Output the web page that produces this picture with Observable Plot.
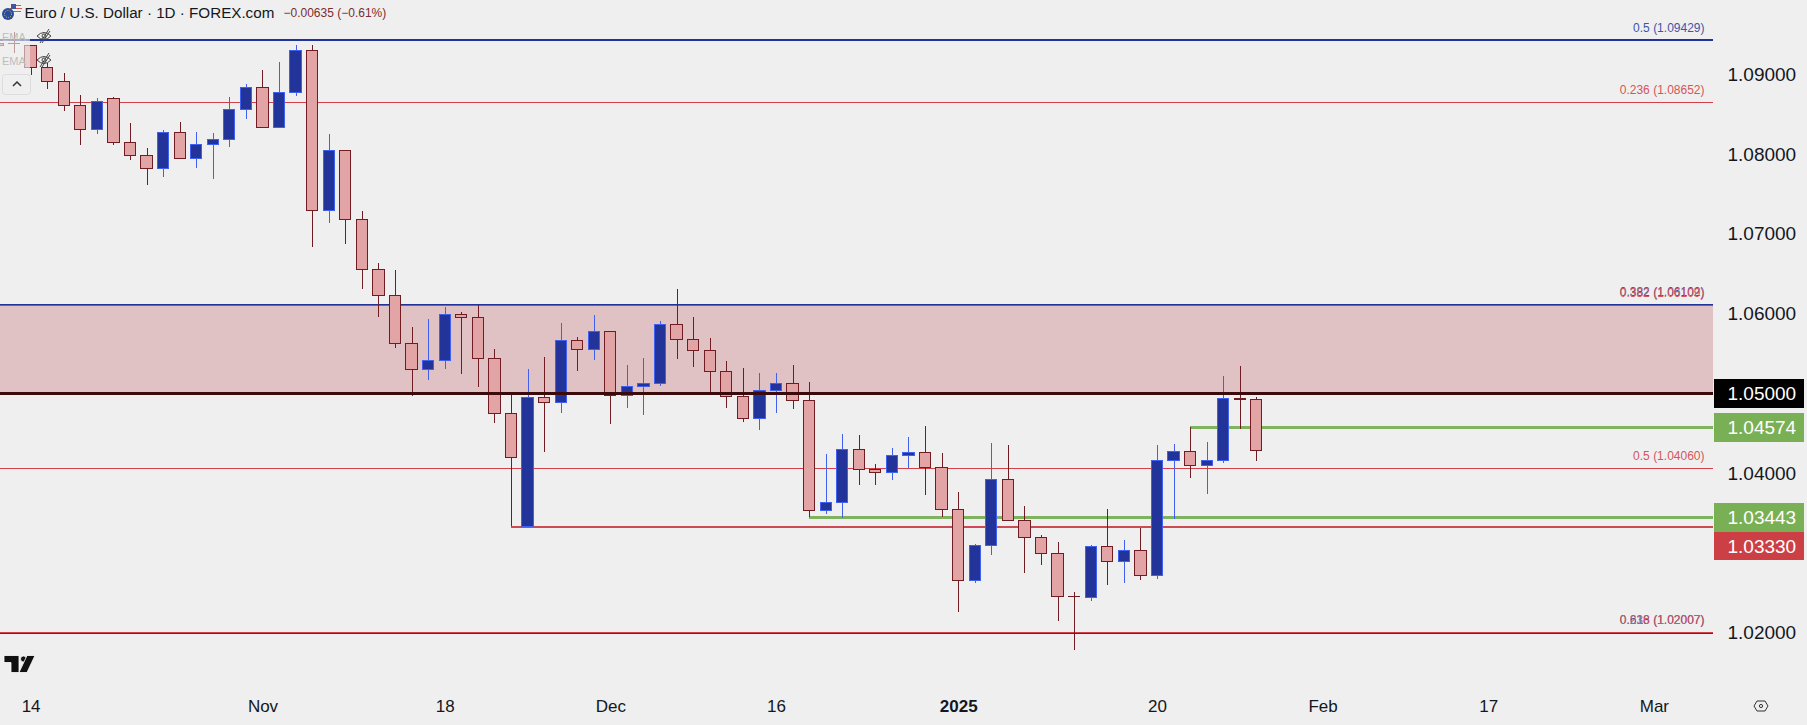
<!DOCTYPE html>
<html><head><meta charset="utf-8">
<script src="https://cdn.jsdelivr.net/npm/d3@7"></script>
<script src="https://cdn.jsdelivr.net/npm/@observablehq/plot@0.6"></script>
<style>
html,body{margin:0;padding:0;background:#efefef;overflow:hidden}
#wrap{position:relative;width:1807px;height:725px}
#wrap>svg.icon{position:absolute;overflow:visible}
</style></head><body><div id="wrap"><div id="chart"></div></div>
<script>
const opens=[1.09363,1.09083,1.08911,1.08610,1.08310,1.08698,1.08147,1.07984,1.07821,1.08272,1.07946,1.08121,1.08184,1.08560,1.08836,1.08335,1.08773,1.09300,1.07294,1.08046,
1.07181,1.06554,1.06228,1.05626,1.05300,1.05413,1.05990,1.05952,1.05438,1.04748,1.03332,1.04949,1.04886,1.05664,1.05551,1.05776,1.04974,1.05087,1.05125,1.05864,
1.05676,1.05538,1.05275,1.04962,1.04686,1.05037,1.05125,1.04911,1.03532,1.03633,1.04297,1.04046,1.04009,1.04221,1.04259,1.04071,1.03544,1.02654,1.03093,1.03921,
1.03407,1.03193,1.02993,1.02454,1.02441,1.03081,1.02893,1.03030,1.02717,1.04159,1.04272,1.04096,1.04159,1.04932,1.04924];
const highs=[1.09363,1.09137,1.09012,1.08736,1.08698,1.08711,1.08385,1.08071,1.08297,1.08401,1.08276,1.08259,1.08711,1.08878,1.09053,1.09154,1.09367,1.09367,1.08251,1.08046,
1.07282,1.06630,1.06542,1.05831,1.05931,1.06077,1.06015,1.06107,1.05551,1.04978,1.05304,1.05450,1.05877,1.05701,1.05977,1.05776,1.05354,1.05438,1.05902,1.06307,
1.05952,1.05689,1.05400,1.05313,1.05250,1.05250,1.05350,1.05137,1.04234,1.04485,1.04473,1.04109,1.04310,1.04447,1.04589,1.04247,1.03758,1.03106,1.04372,1.04347,
1.03582,1.03218,1.03131,1.02504,1.03093,1.03544,1.03156,1.03306,1.04347,1.04359,1.04572,1.04384,1.05212,1.05337,1.04949];
const lows=[1.08991,1.08819,1.08544,1.08117,1.08255,1.08117,1.07929,1.07616,1.07716,1.07946,1.07829,1.07691,1.08092,1.08443,1.08335,1.08335,1.08727,1.06839,1.07139,1.06876,
1.06304,1.05961,1.05572,1.04970,1.05170,1.05308,1.05246,1.05083,1.04631,1.03336,1.03332,1.04268,1.04757,1.05283,1.05421,1.04619,1.04819,1.04732,1.05095,1.05434,
1.05333,1.04991,1.04819,1.04644,1.04544,1.04757,1.04807,1.03445,1.03491,1.03440,1.03854,1.03854,1.03917,1.04063,1.03728,1.03453,1.02262,1.02625,1.02976,1.03407,
1.02750,1.02851,1.02149,1.01785,1.02399,1.02600,1.02625,1.02663,1.02675,1.03427,1.03941,1.03741,1.04130,1.04556,1.04155];
const closes=[1.09083,1.08911,1.08610,1.08310,1.08661,1.08147,1.07984,1.07821,1.08272,1.07946,1.08121,1.08184,1.08560,1.08836,1.08335,1.08773,1.09300,1.07294,1.08046,1.07181,
1.06554,1.06228,1.05626,1.05300,1.05413,1.05990,1.05952,1.05438,1.04748,1.04197,1.04949,1.04886,1.05664,1.05551,1.05776,1.04974,1.05087,1.05125,1.05864,1.05676,
1.05538,1.05275,1.04962,1.04686,1.05037,1.05125,1.04911,1.03532,1.03633,1.04297,1.04046,1.04009,1.04221,1.04259,1.04071,1.03544,1.02654,1.03093,1.03921,1.03407,
1.03193,1.02993,1.02454,1.02450,1.03081,1.02893,1.03030,1.02717,1.04159,1.04272,1.04096,1.04159,1.04936,1.04924,1.04284];
// two earlier sessions that sit under the faded legend at the left edge
const earlyBars=[{i:-2,o:1.09385,h:1.09420,l:1.09340,c:1.09363},{i:-1,o:1.09385,h:1.09529,l:1.09266,c:1.09380}];

const tickBars=[0,14,25,35,45,68,78,88,98];
const tickLabels=["14","Nov","18","Dec","16","20","Feb","17","Mar"];
const yearBar=56, yearLabel="2025";
const yTicks=[1.02,1.04,1.06,1.07,1.08,1.09];

const fibBlue=[{p:1.09429,t:"0.5 (1.09429)",w:2},{p:1.06122,t:"0.382 (1.06102)",w:1},{p:1.02000,t:"0.618 (1.02007)",w:1}];
const fibRed=[{p:1.08652,t:"0.236 (1.08652)"},{p:1.06110,t:"0.382 (1.06109)"},{p:1.04060,t:"0.5 (1.04060)"},{p:1.02010,t:"0.236 (1.02007)"}];
const zoneTop=1.06110, zoneBottom=1.05;
const level500=1.05;
const greenLevels=[{p:1.04574,from:70},{p:1.03443,from:47}];
const redLevels=[{p:1.03330,from:29}];

const bars=[...earlyBars,...opens.map((o,i)=>({i,o,h:highs[i],l:lows[i],c:closes[i]}))].map(d=>({...d,up:d.c>d.o}));
const cUpFill="#223399",cUpLine="#4060f0",cDnFill="#e3a4a5",cDnLine="#701c22";
const cBlue="#20339a",cRed="#d4404a",cGreen="#7fb35f",cRedLvl="#cc4a52";
const F="'Liberation Sans',sans-serif";
const xMin=-1.847,xMax=101.57,xEnd=107.07;
const crisp={shapeRendering:"crispEdges"};

const tag=(p,txt,bg,dy=0)=>[
 Plot.rect([p],{x1:xMax+0.06,x2:xEnd,y1:d=>d-0.00180,y2:d=>d+0.00180,fill:bg,dy,...crisp}),
 Plot.text([p],{x:xMax,y:d=>d,text:()=>txt,fill:"#fff",textAnchor:"start",dx:14,dy,fontSize:19,fontFamily:F})
];
const plot=Plot.plot({
 width:1807,height:725,marginLeft:0,marginRight:94,marginTop:0,marginBottom:40,
 style:{background:"#efefef",fontFamily:F,overflow:"visible"},
 x:{type:"linear",domain:[xMin,xMax],axis:null},
 y:{type:"linear",domain:[1.01342,1.09930],axis:null},
 marks:[
  Plot.rect([0],{x1:xMin,x2:xMax,y1:zoneBottom,y2:zoneTop,fill:"#e1c2c4",...crisp}),
  Plot.ruleY(fibBlue,{y:"p",x1:xMin,x2:xMax,stroke:cBlue,strokeWidth:"w",...crisp}),
  Plot.ruleY(fibRed,{y:"p",x1:xMin,x2:xMax,stroke:cRed,strokeWidth:1,...crisp}),
  Plot.ruleY(greenLevels,{y:"p",x1:"from",x2:()=>xMax,stroke:cGreen,strokeWidth:3,...crisp}),
  Plot.ruleY(redLevels,{y:"p",x1:"from",x2:()=>xMax,stroke:cRedLvl,strokeWidth:2,...crisp}),
  Plot.ruleX(bars,{x:"i",y1:"l",y2:"h",stroke:d=>d.up?cUpLine:cDnLine,strokeWidth:1,...crisp}),
  Plot.rect(bars,{x1:d=>d.i-0.34,x2:d=>d.i+0.34,y1:d=>Math.min(d.o,d.c),y2:d=>Math.max(d.o,d.c),fill:d=>d.up?cUpFill:cDnFill,stroke:d=>d.up?cUpLine:cDnLine,strokeWidth:1,...crisp}),
  Plot.ruleY([level500],{x1:xMin,x2:xMax,stroke:"#3a0a0c",strokeWidth:3,...crisp}),
  Plot.text(fibBlue,{x:()=>xMax,y:"p",text:"t",fill:"#3d55a8",textAnchor:"end",dx:-9,dy:-12.5,fontSize:12,fontFamily:F}),
  Plot.text(fibRed,{x:()=>xMax,y:"p",text:"t",fill:"#d4555c",textAnchor:"end",dx:-9,dy:-12.5,fontSize:12,fontFamily:F}),
  Plot.axisY(yTicks,{anchor:"right",tickSize:0,tickPadding:14,textAnchor:"start",tickFormat:d3.format(".5f"),fill:"#131722",fontSize:19,fontFamily:F,label:null}),
  ...tag(level500,"1.05000","#000"),
  ...tag(1.04574,"1.04574","#7ab055"),
  ...tag(1.03443,"1.03443","#7ab055"),
  ...tag(1.03330,"1.03330","#cc3f45",19.6),
  Plot.axisX(tickBars,{tickSize:0,tickPadding:14,tickFormat:d=>tickLabels[tickBars.indexOf(d)],fill:"#131722",fontSize:17,fontFamily:F,label:null}),
  Plot.axisX([yearBar],{tickSize:0,tickPadding:14,tickFormat:()=>yearLabel,fill:"#131722",fontSize:17,fontWeight:"bold",fontFamily:F,label:null}),
  Plot.text(["Euro / U.S. Dollar · 1D · FOREX.com"],{frameAnchor:"top-left",dx:24,dy:13,lineAnchor:"middle",textAnchor:"start",fill:"#131722",fontSize:15.2,fontFamily:F,text:d=>d}),
  Plot.text(["−0.00635 (−0.61%)"],{frameAnchor:"top-left",dx:283,dy:13,lineAnchor:"middle",textAnchor:"start",fill:"#7b2c30",fontSize:12,fontFamily:F,text:d=>d})
 ]
});
document.getElementById("chart").append(plot);
const wrap=document.getElementById("wrap");
function icon(x,y,w,h,inner){const n=document.createElementNS("http://www.w3.org/2000/svg","svg");n.setAttribute("class","icon");n.setAttribute("width",w);n.setAttribute("height",h);n.style.left=x+"px";n.style.top=y+"px";n.innerHTML=inner;wrap.append(n);}
icon(0,26,30,44,'<rect width="30" height="44" fill="#efefef" opacity=".6"/>');
const eye='<text x="0" y="13" font-family="Liberation Sans" font-size="11" fill="#bdbdbd">EMA</text><g transform="translate(42,8)" fill="none" stroke="#444" stroke-width="1"><path d="M-7 0Q0 -7 7 0Q0 7 -7 0Z"/><circle r="2"/><path d="M-4 7L5 -7M-2 7L6 -5" /></g>';
icon(2,28,50,16,eye);
icon(2,52,50,16,eye);
icon(2,74,30,21,'<rect x=".5" y=".5" width="28" height="20" rx="3" fill="none" stroke="#ddd"/><path d="M11 12l4-4 4 4" fill="none" stroke="#333" stroke-width="1.5"/>');
icon(2,3,19,18,'<circle cx="14" cy="6" r="6" fill="#f3f3f3"/><path d="M9 2.5h10M8 5.5h12M9 8.5h10" stroke="#d9534f" stroke-width="1.2"/><rect x="9" y="1" width="5" height="5" fill="#3a5aa0"/><circle cx="6" cy="11" r="6" fill="#2a4a9a"/><circle cx="6" cy="11" r="3.5" fill="none" stroke="#d9c24a" stroke-dasharray="1 1.2"/>');
icon(4,655,31,18,'<g fill="#111" stroke="#fff" stroke-width=".8"><path d="M0 .5h15v17H7V7.5H0z"/><circle cx="19.5" cy="4" r="3"/><path d="M23 .5h8l-8 17h-8z"/></g>');
icon(1753,700,16,12,'<path d="M1 6L4 1h8l3 5-3 5H4z" fill="none" stroke="#333"/><circle cx="8" cy="6" r="1.6" fill="none" stroke="#333"/>');
</script></body></html>
